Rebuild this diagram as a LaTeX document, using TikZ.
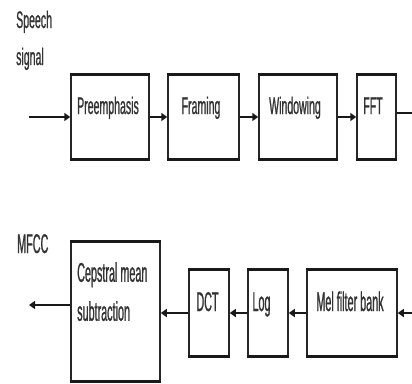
\documentclass[tikz,border=0pt]{standalone}
\usepackage{fontspec}
\newfontfamily\condA[FakeStretch=0.44,FakeBold=0.8]{Liberation Sans}
\newfontfamily\condB[FakeStretch=0.4,FakeBold=0.8]{Liberation Sans}
\usetikzlibrary{arrows.meta}
\begin{document}
\begin{tikzpicture}[x=1pt,y=-1pt,
  blk/.style={draw=black!85, line width=1.5pt, inner sep=0pt, fill=white},
  edgeline/.style={line width=3pt, black!90},
  arr/.style={draw=black!90, line width=1.8pt, -{Triangle[length=6pt,width=8pt]}},
  lnk/.style={draw=black!90, line width=1.8pt},
  tA/.style={font=\condA\fontsize{24}{37}\selectfont, text=black!80, inner sep=0pt},
  tB/.style={font=\condB\fontsize{27}{39}\selectfont, text=black!80, inner sep=0pt}]
\useasboundingbox (0,0) rectangle (412,383);
% top row boxes
\node[blk, minimum width=78pt, minimum height=84pt] (pre) at (110,117) {};
\node[blk, minimum width=71pt, minimum height=84pt] (fram) at (203.5,117) {};
\node[blk, minimum width=78pt, minimum height=84pt] (win) at (298,117) {};
\node[blk, minimum width=39pt, minimum height=84pt] (fft) at (376.5,117) {};
% bottom row boxes
\node[blk, minimum width=89pt, minimum height=139pt] (cep) at (115.5,311.5) {};
\node[blk, minimum width=40pt, minimum height=86pt] (dct) at (209,313) {};
\node[blk, minimum width=40pt, minimum height=86pt] (log) at (268,313) {};
\node[blk, minimum width=90pt, minimum height=86pt] (mel) at (352,313) {};
\foreach \b in {pre,fram,win,fft,cep,dct,log,mel} {
  \draw[edgeline] (\b.north west) -- (\b.north east);
  \draw[edgeline] (\b.south west) -- (\b.south east);
}
% texts
\node[tA, anchor=base] (tpre) at (108,114) {Preemphasis};
\node[tA, anchor=base] (tfram) at (201,114) {Framing};
\node[tA, anchor=base] (twin) at (295,114) {Windowing};
\node[tA, anchor=base] (tfft) at (373,114) {FFT};
\node[tA, anchor=west, align=left] (tsp) at (16,40.3) {Speech\\signal};
\node[tB, anchor=base west] (tmf) at (17,253) {MFCC};
\node[tB, anchor=west, align=left] (tcep) at (77,291.6) {Cepstral mean\\subtraction};
\node[tB, anchor=base] (tdct) at (207.5,311) {DCT};
\node[tB, anchor=base] (tlog) at (261.5,311) {Log};
\node[tB, anchor=base] (tmel) at (350,311) {Mel filter bank};
% free ends
\coordinate (in) at (29,117);
\coordinate (fftout) at (412,113);
\coordinate (melin) at (412,313);
\coordinate (out) at (29,305);
% connectors
\draw[arr] (in) -- (pre.west);
\draw[arr] (pre.east) -- (fram.west);
\draw[arr] (fram.east) -- (win.west);
\draw[arr] (win.east) -- (fft.west);
\draw[lnk] ([yshift=4pt]fft.east) -- (fftout);
\draw[arr] (melin) -- (mel.east);
\draw[arr] (mel.west) -- (log.east);
\draw[arr] (log.west) -- (dct.east);
\draw[arr] (dct.west) -- (dct.west -| cep.east);
\draw[arr] ([yshift=6.5pt]cep.west) -- (out);
\end{tikzpicture}
\end{document}
